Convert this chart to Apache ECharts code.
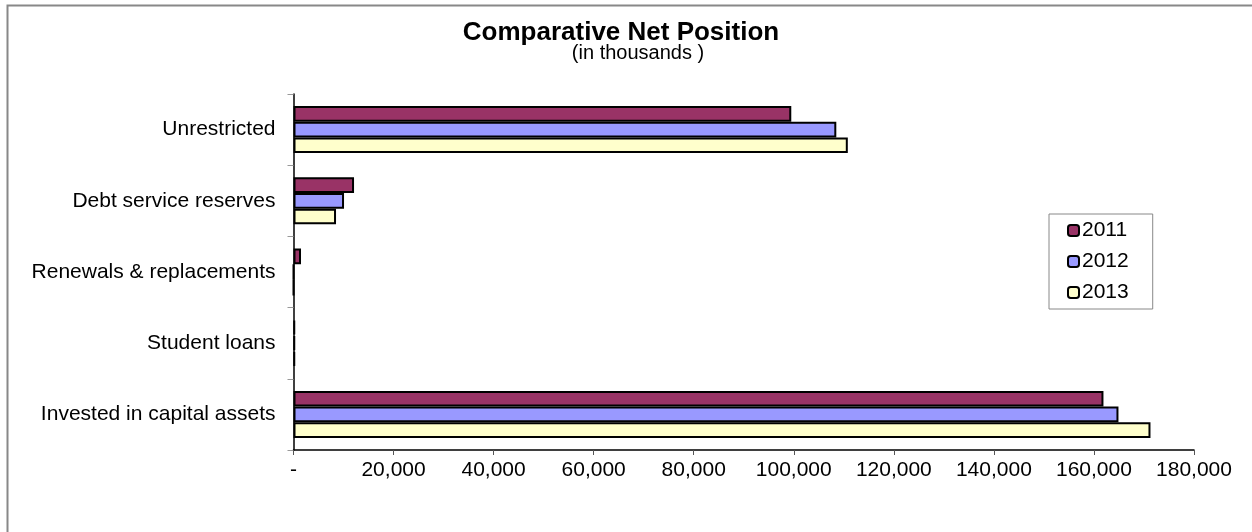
<!DOCTYPE html>
<html>
<head>
<meta charset="utf-8">
<style>
  html, body { margin: 0; padding: 0; background: #fff; }
  #chart { width: 1252px; height: 532px; }
</style>
<script src="https://cdn.jsdelivr.net/npm/echarts@6/dist/echarts.min.js"></script>
</head>
<body>
<div id="chart"></div>
<script>
// categories, top to bottom
const categories = [
    'Unrestricted',
    'Debt service reserves',
    'Renewals & replacements',
    'Student loans',
    'Invested in capital assets'
];
const years = ['2011', '2012', '2013'];
const values2011 = [99500, 12100, 1500, 300, 161900];
const values2012 = [108500, 10100, 0, 300, 164900];
const values2013 = [110800, 8500, 0, 300, 171300];
const xTicks = [0, 20000, 40000, 60000, 80000, 100000, 120000, 140000, 160000, 180000];

const colors = ['#993366', '#9999FF', '#FFFFCC'];
const seriesValues = [values2011, values2012, values2013];
const font = '"Liberation Sans", Arial, sans-serif';

const chart = echarts.init(document.getElementById('chart'));
chart.setOption({
    animation: false,
    textStyle: { fontFamily: font },
    graphic: [
        {
            // outer chart frame (right and bottom edges fall outside the picture)
            type: 'rect',
            shape: { x: 7.5, y: 5.5, width: 1270, height: 540 },
            style: { fill: 'none', stroke: '#888', lineWidth: 2 }
        },
        {
            type: 'text',
            x: 621, y: 20,
            style: { text: 'Comparative Net Position', font: 'bold 26px ' + font, fill: '#000', align: 'center' }
        },
        {
            type: 'text',
            x: 638, y: 43,
            style: { text: '(in thousands )', font: '20px ' + font, fill: '#000', align: 'center' }
        }
    ],
    legend: {
        orient: 'vertical',
        left: 1049,
        top: 214,
        padding: [6, 24, 6, 18],
        itemGap: 10,
        itemWidth: 11,
        itemHeight: 11,
        borderColor: '#888',
        borderWidth: 1,
        textStyle: { fontSize: 21, color: '#000', padding: [0, 0, 0, -2] },
        data: years.map((y) => ({ name: y, itemStyle: { borderColor: '#000', borderWidth: 2 } }))
    },
    grid: { left: 293.5, right: 58, top: 94, bottom: 82 },
    xAxis: {
        type: 'value',
        min: 0,
        max: 180000,
        interval: 20000,
        splitLine: { show: false },
        axisLine: { show: true, lineStyle: { color: '#000', width: 1.5 } },
        axisTick: { show: true, length: 5, lineStyle: { color: '#555' } },
        axisLabel: {
            fontSize: 21,
            color: '#000',
            margin: 10,
            formatter: (v) => (v === 0 ? '-' : xTicks.includes(v) ? v.toLocaleString('en-US') : '')
        }
    },
    yAxis: {
        type: 'category',
        inverse: true,
        data: categories,
        axisLine: { show: true, lineStyle: { color: '#000', width: 1.5 } },
        axisTick: { show: true, length: 6, lineStyle: { color: '#999' } },
        axisLabel: { fontSize: 21, color: '#000', margin: 18 }
    },
    series: years.map((y, i) => ({
        name: y,
        type: 'bar',
        data: seriesValues[i],
        barGap: '0%',
        barCategoryGap: '34%',
        itemStyle: { color: colors[i], borderColor: '#000', borderWidth: 2 }
    }))
});
</script>
</body>
</html>
